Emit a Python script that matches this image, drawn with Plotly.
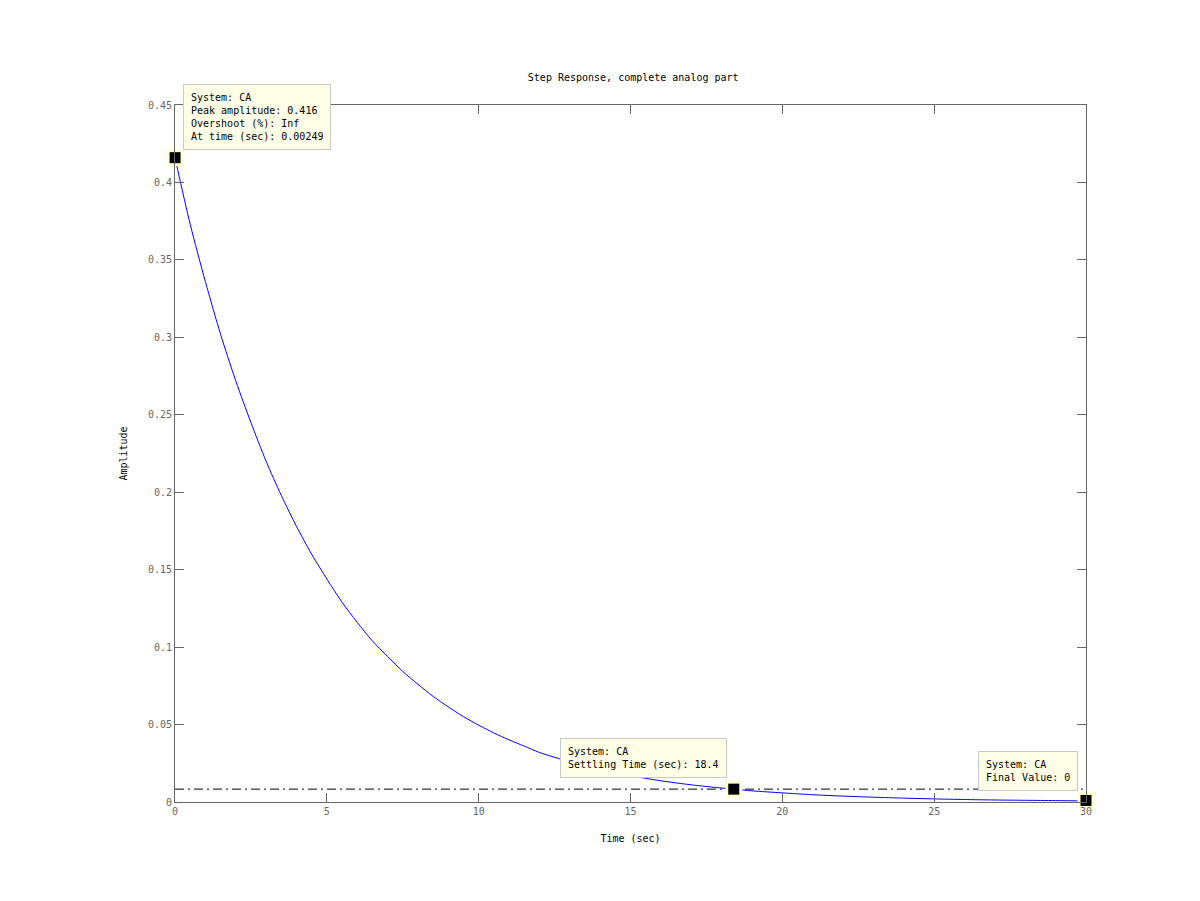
import plotly.graph_objects as go

# Step response
time_s = [0, 0.5, 1, 1.5, 2, 2.5, 3, 3.5, 4, 4.5, 5, 5.5, 6, 6.5, 7, 7.5, 8, 8.5, 9, 9.5,
          10, 10.5, 11, 11.5, 12, 13, 14, 15, 16, 17, 18, 18.4, 19, 20, 21, 22, 23, 24,
          25, 26, 27, 28, 29, 30]
amplitude = [0.416, 0.373, 0.336, 0.302, 0.272, 0.245, 0.220, 0.198, 0.178, 0.160,
             0.144, 0.129, 0.116, 0.104, 0.094, 0.0843, 0.076, 0.0682, 0.0614, 0.0551,
             0.0496, 0.0446, 0.0401, 0.0361, 0.032, 0.026, 0.021, 0.017, 0.0137, 0.0111,
             0.0090, 0.0083, 0.0072, 0.0059, 0.0047, 0.0038, 0.0031, 0.0025, 0.0020,
             0.0016, 0.0013, 0.0011, 0.0009, 0.0007]

settle_band_t = [0, 30]
settle_band_v = [0.0083, 0.0083]

marker_t = [0.00249, 18.4, 30]
marker_v = [0.416, 0.0083, 0.0010]
marker_text = [
    "System: CA<br>Peak amplitude: 0.416<br>Overshoot (%): Inf<br>At time (sec): 0.00249",
    "System: CA<br>Settling Time (sec): 18.4",
    "System: CA<br>Final Value: 0",
]
# annotation offsets in pixels (box placement relative to marker)
ann_ax = [8, -7, -8]
ann_ay = [-8, -11, -9]
ann_xanchor = ["left", "right", "right"]

x_ticks = [0, 5, 10, 15, 20, 25, 30]
y_ticks = [0, 0.05, 0.1, 0.15, 0.2, 0.25, 0.3, 0.35, 0.4, 0.45]
y_tick_labels = ["0", "0.05", "0.1", "0.15", "0.2", "0.25", "0.3", "0.35", "0.4", "0.45"]

FONT = "DejaVu Sans Mono"
AXCOL = "#666666"

fig = go.Figure()
fig.add_trace(go.Scatter(x=settle_band_t, y=settle_band_v, mode="lines",
                         line=dict(color="black", width=1, dash="9px,4px,2px,4px"),
                         hoverinfo="skip", showlegend=False))
fig.add_trace(go.Scatter(x=time_s, y=amplitude, mode="lines",
                         line=dict(color="#0000ff", width=1, shape="spline", smoothing=0.8),
                         showlegend=False))
fig.add_trace(go.Scatter(x=marker_t, y=marker_v, mode="markers",
                         marker=dict(symbol="square", size=17, color="#ffffd0", line=dict(width=0)),
                         cliponaxis=False, showlegend=False, hoverinfo="skip"))
fig.add_trace(go.Scatter(x=marker_t, y=marker_v, mode="markers",
                         marker=dict(symbol="square", size=11, color="black", line=dict(width=0)),
                         cliponaxis=False, showlegend=False))

for t, v, txt, ax, ay, xa in zip(marker_t, marker_v, marker_text, ann_ax, ann_ay, ann_xanchor):
    fig.add_annotation(x=t, y=v, text=txt, showarrow=True, arrowcolor="rgba(0,0,0,0)",
                       ax=ax, ay=ay, xanchor=xa, yanchor="bottom", align="left",
                       font=dict(family=FONT, size=10, color="black"),
                       bgcolor="#ffffe8", bordercolor="#c8c8c8", borderwidth=1, borderpad=7)

fig.update_layout(
    width=1200, height=901,
    paper_bgcolor="white", plot_bgcolor="white",
    margin=dict(l=167, r=122, t=97, b=107),
    font=dict(family=FONT, size=10, color="black"),
    title=dict(text="Step Response, complete analog part", x=0.521, xanchor="center",
               y=1 - 69 / 901, yanchor="middle", font=dict(family=FONT, size=10, color="black")),
)
fig.update_xaxes(range=[0, 30], tickvals=x_ticks, ticktext=[str(t) for t in x_ticks],
                 ticks="inside", ticklen=9, tickcolor=AXCOL, showline=True, linecolor=AXCOL,
                 linewidth=1, mirror="ticks", showgrid=False, zeroline=False,
                 tickfont=dict(family=FONT, size=10, color=AXCOL),
                 title=dict(text="Time (sec)", font=dict(family=FONT, size=10, color="black"),
                            standoff=18))
fig.update_yaxes(range=[0, 0.45], tickvals=y_ticks, ticktext=y_tick_labels,
                 ticks="inside", ticklen=9, tickcolor=AXCOL, showline=True, linecolor=AXCOL,
                 linewidth=1, mirror="ticks", showgrid=False, zeroline=False,
                 tickfont=dict(family=FONT, size=10, color=AXCOL),
                 title=dict(text="Amplitude", font=dict(family=FONT, size=10, color="black"),
                            standoff=18))

fig.write_html("out.html")
